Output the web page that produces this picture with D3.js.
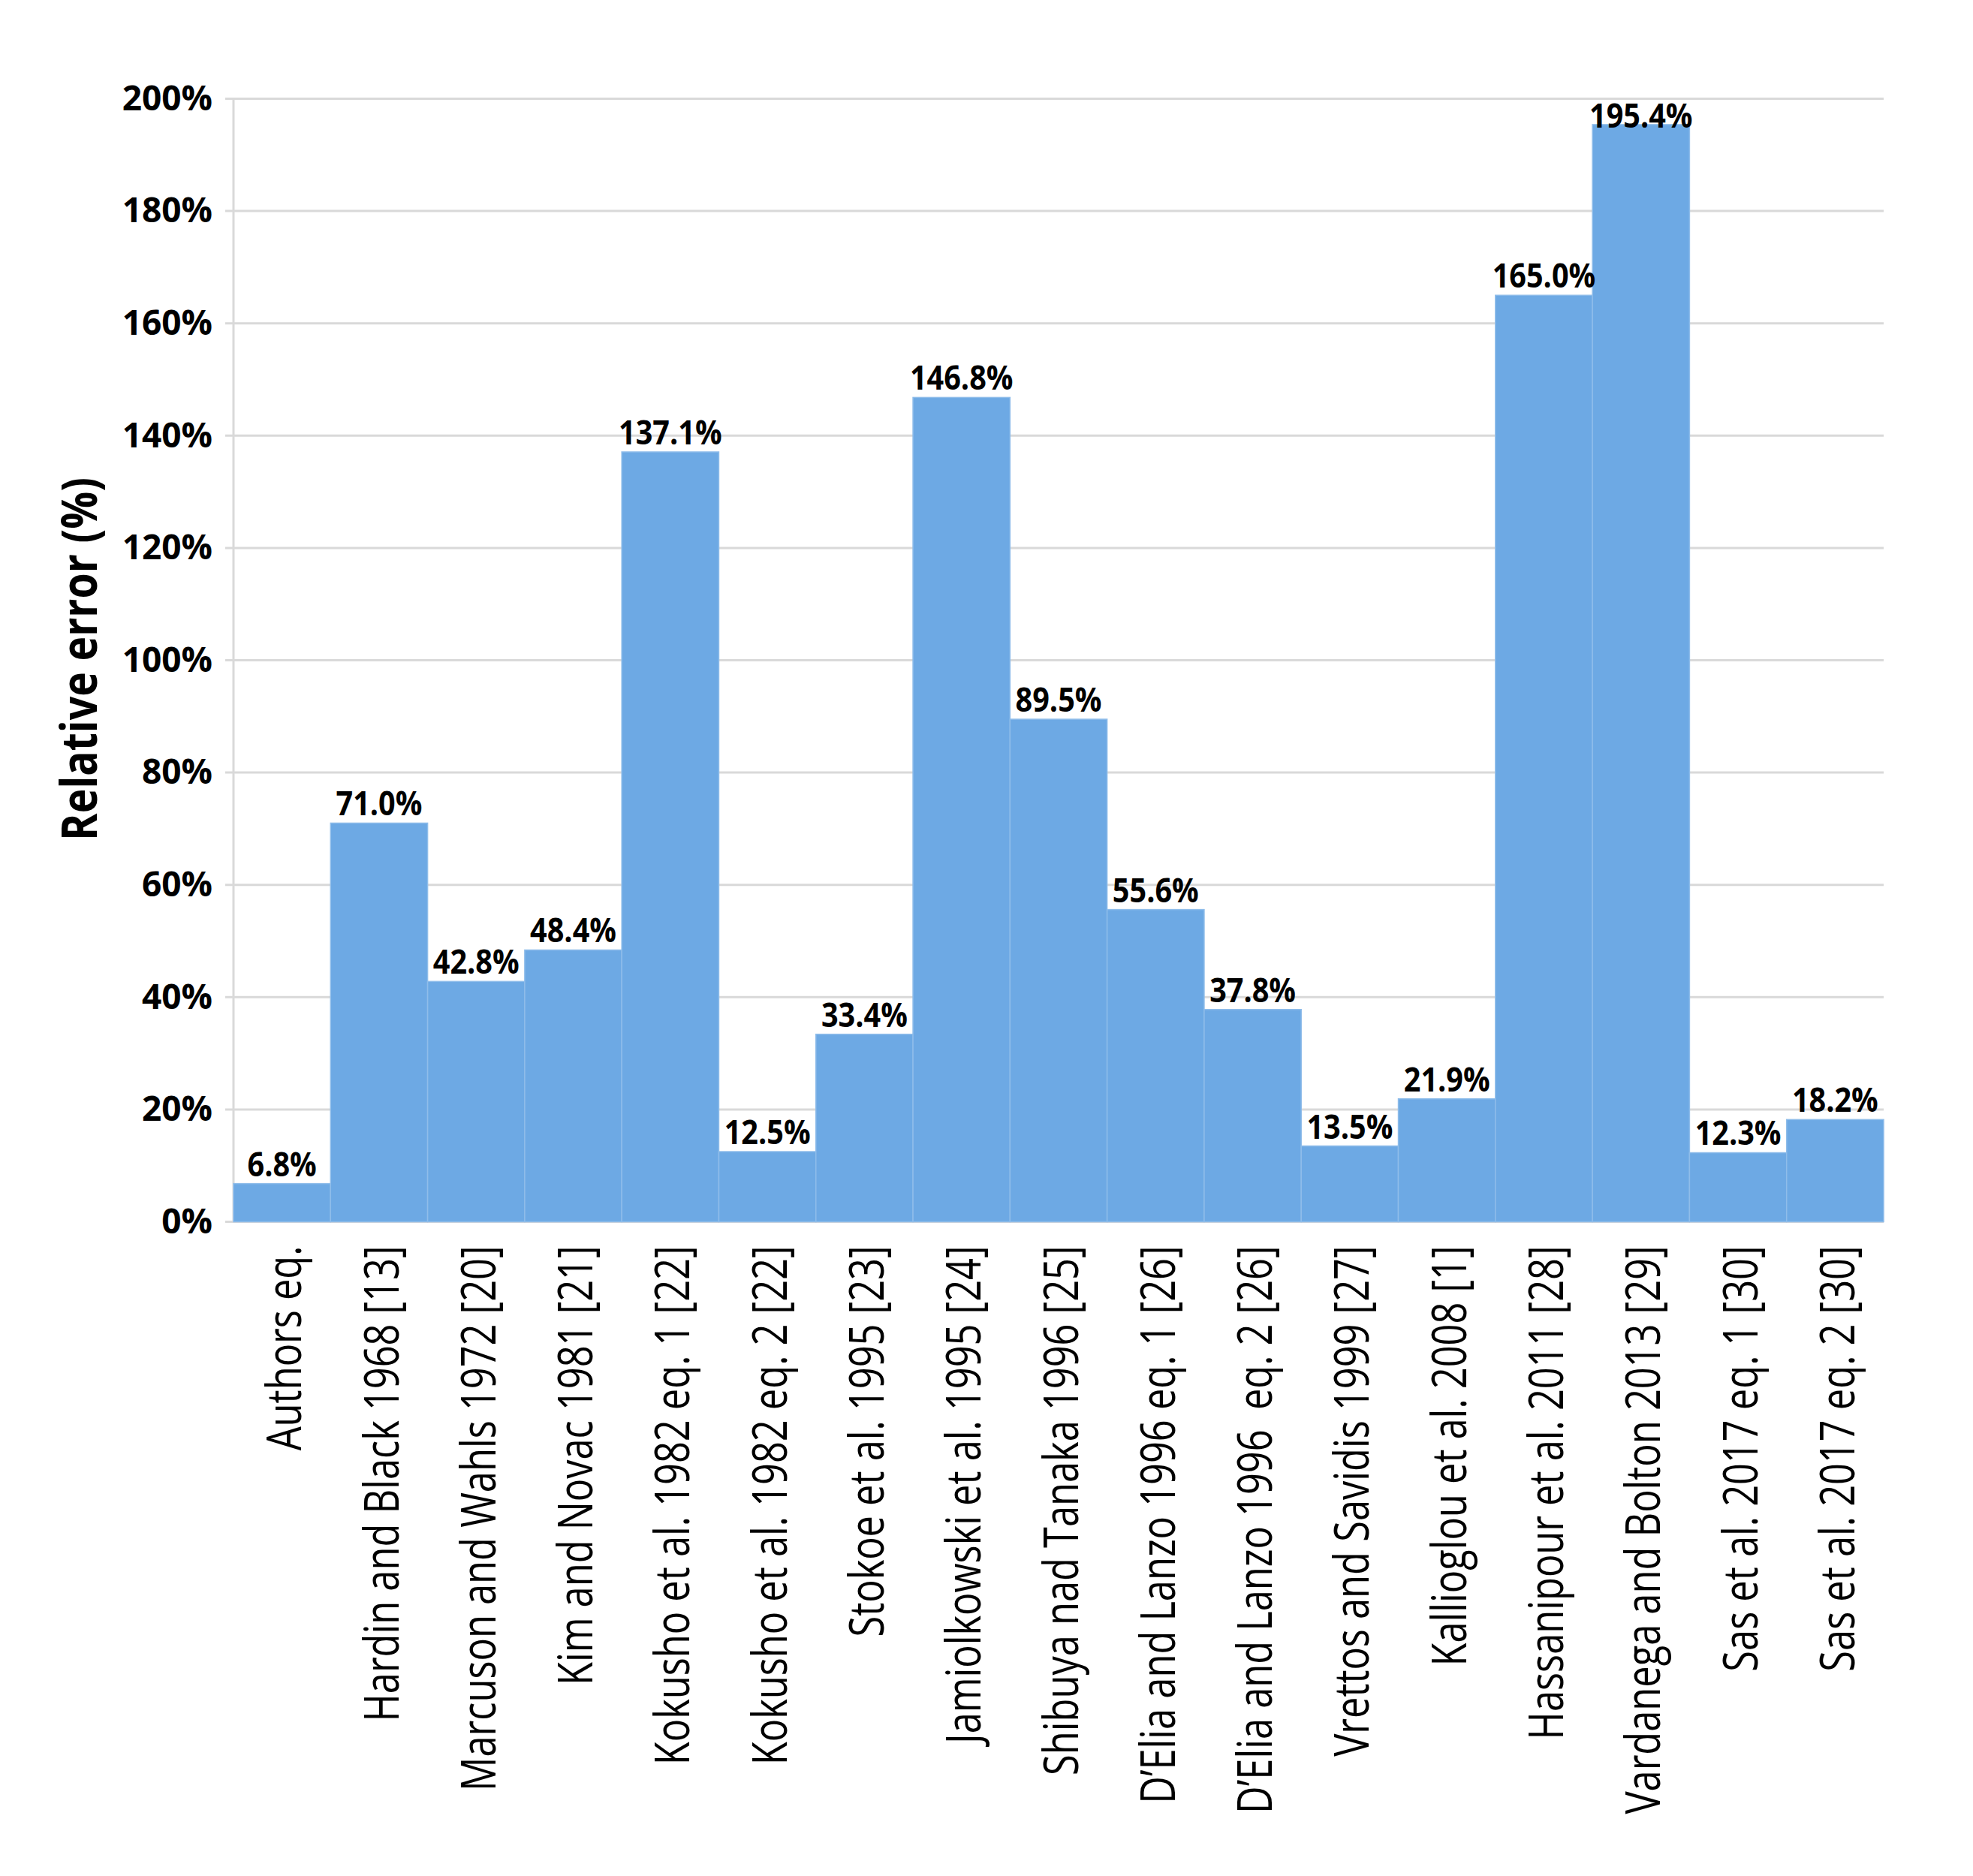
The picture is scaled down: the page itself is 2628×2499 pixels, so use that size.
<!DOCTYPE html>
<html>
<head>
<meta charset="utf-8">
<script src="https://cdn.jsdelivr.net/npm/d3@7"></script>
<style>
  html, body { margin: 0; padding: 0; background: #ffffff; }
  svg { display: block; }
</style>
</head>
<body>
<svg id="chart" width="2628" height="2499"></svg>
<script>
const categories = [
  "Authors eq.",
  "Hardin and Black 1968 [13]",
  "Marcuson and Wahls 1972 [20]",
  "Kim and Novac 1981 [21]",
  "Kokusho et al. 1982 eq. 1 [22]",
  "Kokusho et al. 1982 eq. 2 [22]",
  "Stokoe et al. 1995 [23]",
  "Jamiolkowski et al. 1995 [24]",
  "Shibuya nad Tanaka 1996 [25]",
  "D\u2019Elia and Lanzo 1996 eq. 1 [26]",
  "D\u2019Elia and Lanzo 1996  eq. 2 [26]",
  "Vrettos and Savidis 1999 [27]",
  "Kallioglou et al. 2008 [1]",
  "Hassanipour et al. 2011 [28]",
  "Vardanega and Bolton 2013 [29]",
  "Sas et al. 2017 eq. 1 [30]",
  "Sas et al. 2017 eq. 2 [30]"
];
const values = [6.8, 71.0, 42.8, 48.4, 137.1, 12.5, 33.4, 146.8, 89.5, 55.6, 37.8, 13.5, 21.9, 165.0, 195.4, 12.3, 18.2];
const yTicks = [0, 20, 40, 60, 80, 100, 120, 140, 160, 180, 200];
const yTitle = "Relative error (%)";

(function () {
const svg = d3.select("#chart");
const pLeft = 311, pRight = 2509, pTop = 131.5, pBottom = 1627.5;
const font = "'Open Sans', 'Noto Sans', sans-serif";

const x = d3.scaleBand().domain(categories).range([pLeft, pRight]).padding(0);
const y = d3.scaleLinear().domain([0, 200]).range([pBottom, pTop]);

// gridlines
svg.append("g").selectAll("line").data(yTicks).join("line")
  .attr("x1", pLeft - 11).attr("x2", pRight)
  .attr("y1", d => y(d)).attr("y2", d => y(d))
  .attr("stroke", "#d9d9d9").attr("stroke-width", 3);

// left axis line
svg.append("line")
  .attr("x1", pLeft).attr("x2", pLeft).attr("y1", pTop).attr("y2", pBottom)
  .attr("stroke", "#d9d9d9").attr("stroke-width", 3);

// bars
svg.append("g").selectAll("rect").data(values).join("rect")
  .attr("x", (d, i) => x(categories[i]))
  .attr("width", x.bandwidth())
  .attr("y", d => y(d))
  .attr("height", d => y(0) - y(d))
  .attr("fill", "#6da9e4")
  .attr("stroke", "#8fbdea")
  .attr("stroke-width", 1.5);

// y axis labels
const yAxis = d3.axisLeft(y).tickValues(yTicks).tickSize(0).tickPadding(28).tickFormat(d => d + "%");
const gy = svg.append("g").attr("transform", `translate(${pLeft},0)`).call(yAxis);
gy.select(".domain").remove();
gy.selectAll("text")
  .style("font-family", font).style("font-weight", "bold")
  .style("font-size", "46px").attr("fill", "#000");

// x axis labels (condensed along the text direction)
const sxLab = 0.79;
const xAxis = d3.axisBottom(x).tickSize(0);
const gx = svg.append("g").attr("transform", `translate(0,${pBottom})`).call(xAxis);
gx.select(".domain").remove();
gx.selectAll("text")
  .attr("transform", `rotate(-90) scale(${sxLab},1)`)
  .attr("x", -32 / sxLab).attr("y", 0).attr("dy", "0.40em")
  .style("text-anchor", "end")
  .style("white-space", "pre")
  .style("font-family", font).style("font-size", "64px").attr("fill", "#000");

// data labels
const sxVal = 0.9;
svg.append("g").selectAll("text").data(values).join("text")
  .attr("transform", (d, i) =>
    `translate(${x(categories[i]) + x.bandwidth() / 2},${Math.max(y(d) - 10, y(200) + 38)}) scale(${sxVal},1)`)
  .attr("text-anchor", "middle")
  .style("font-family", font).style("font-weight", "bold").style("font-size", "44px")
  .attr("fill", "#000")
  .text(d => d.toFixed(1) + "%");

// y title
svg.append("text")
  .attr("transform", "translate(106,878) rotate(-90) scale(0.84,1)")
  .attr("text-anchor", "middle").attr("dy", "0.35em")
  .style("font-family", font).style("font-weight", "bold").style("font-size", "66px")
  .attr("fill", "#000")
  .text(yTitle);
})();
</script>
</body>
</html>
